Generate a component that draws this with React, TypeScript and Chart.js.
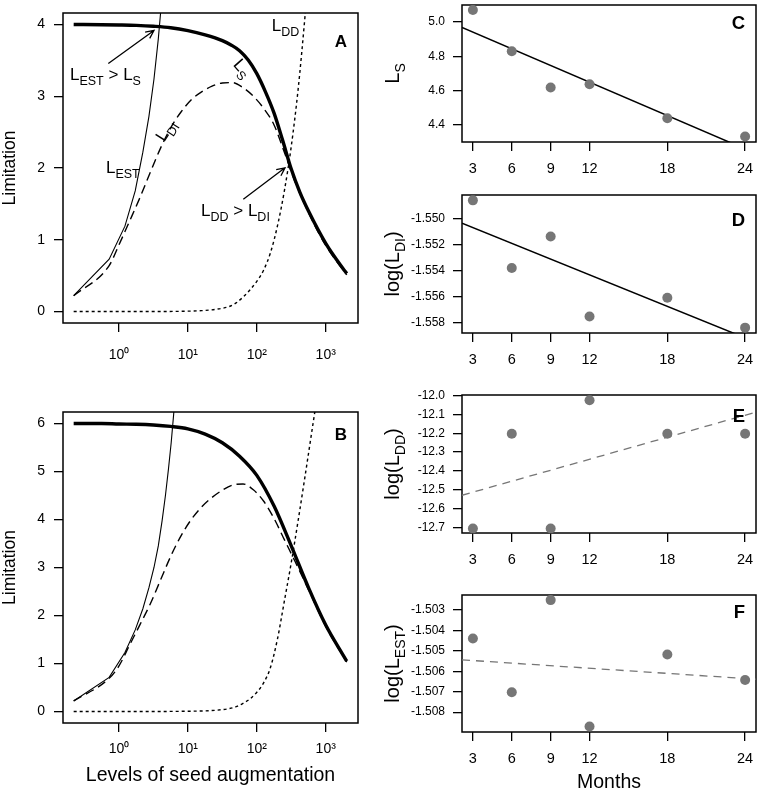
import React, { useEffect, useRef } from 'react';
import { Chart, registerables } from 'chart.js';

Chart.register(...registerables);

const FONT = '"Liberation Sans", Arial, Helvetica, sans-serif';
Chart.defaults.font.family = FONT;
Chart.defaults.color = '#000';

const POINT_GRAY = 'rgb(118,118,118)';

// ---------------- Panel A (seed augmentation, max 4) ----------------
const aLsX = [0.22, 0.56, 1, 1.78, 3.16, 5.62, 10, 17.8, 31.6, 42.2, 56.2, 75, 100, 133, 178, 237, 316, 422, 562, 1000, 1778, 2020];
const aLsY = [4.0, 3.997, 3.993, 3.987, 3.975, 3.955, 3.915, 3.855, 3.775, 3.715, 3.635, 3.505, 3.315, 3.065, 2.765, 2.385, 1.985, 1.66, 1.4, 0.95, 0.6, 0.53];
const aLdiX = [0.22, 0.72, 1.0, 1.41, 2.0, 2.82, 3.98, 5.62, 7.94, 11.2, 15.8, 22.4, 31.6, 44.7, 63.1, 89.1, 126, 178, 251, 355, 562, 1000, 2020];
const aLdiY = [0.22, 0.64, 0.93, 1.25, 1.58, 1.93, 2.27, 2.56, 2.78, 2.95, 3.06, 3.14, 3.185, 3.19, 3.12, 3.0, 2.83, 2.6, 2.22, 1.82, 1.38, 0.92, 0.51];
const aLddX = [0.22, 3.16, 10, 15.8, 25.1, 39.8, 50.1, 63.1, 79.4, 100, 126, 158, 200, 251, 316, 398, 501, 562];
const aLddY = [0, 0, 0.005, 0.012, 0.03, 0.07, 0.12, 0.2, 0.3, 0.42, 0.58, 0.82, 1.2, 1.68, 2.3, 3.1, 4.12, 4.7];
const aLestX = [0.22, 0.72, 1.22, 1.72, 2.22, 2.72, 3.22, 3.72, 4.22];
const aLestY = [0.22, 0.73, 1.19, 1.68, 2.22, 2.72, 3.24, 3.8, 4.4];
const aYTicks = [0, 1, 2, 3, 4];

// ---------------- Panel B (seed augmentation, max 6) ----------------
const bLsX = [0.22, 0.56, 1, 1.78, 3.16, 5.62, 10, 17.8, 31.6, 56.2, 100, 178, 316, 562, 1000, 1778, 2020];
const bLsY = [6.0, 6.0, 5.99, 5.985, 5.97, 5.94, 5.89, 5.78, 5.6, 5.32, 4.92, 4.28, 3.45, 2.58, 1.8, 1.18, 1.05];
const bLdiX = [0.22, 0.72, 1.0, 1.41, 2.0, 2.82, 3.98, 5.62, 7.94, 11.2, 15.8, 22.4, 31.6, 44.7, 63.1, 89.1, 126, 178, 251, 355, 562, 1000, 2020];
const bLdiY = [0.22, 0.69, 0.95, 1.37, 1.8, 2.23, 2.73, 3.23, 3.66, 4.0, 4.26, 4.46, 4.61, 4.72, 4.74, 4.62, 4.38, 4.02, 3.58, 3.14, 2.54, 1.77, 1.03];
const bLddX = [0.22, 3.16, 10, 15.8, 25.1, 39.8, 50.1, 63.1, 79.4, 100, 126, 158, 200, 251, 316, 398, 501, 631, 708];
const bLddY = [0, 0, 0.005, 0.01, 0.025, 0.06, 0.1, 0.17, 0.26, 0.4, 0.6, 0.92, 1.52, 2.3, 3.1, 3.98, 4.9, 5.85, 6.32];
const bLestX = [0.22, 0.72, 1.22, 1.72, 2.22, 2.72, 3.22, 3.72, 4.22, 4.72, 5.22, 5.72, 6.22, 6.72];
const bLestY = [0.22, 0.71, 1.23, 1.7, 2.14, 2.58, 3.0, 3.45, 3.97, 4.5, 5.05, 5.6, 6.2, 6.8];
const bYTicks = [0, 1, 2, 3, 4, 5, 6];

const logTickValues = [1, 10, 100, 1000];
const logTickLabels = ['10\u2070', '10\u00B9', '10\u00B2', '10\u00B3'];

// ---------------- Right panels (months) ----------------
const months = [3, 6, 9, 12, 18, 24];
const monthTicks = [3, 6, 9, 12, 18, 24];
const fitX = [2.16, 24.84];

const cLs = [5.071, 4.829, 4.617, 4.636, 4.437, 4.33];
const cFitY = [4.969, 4.23];
const cTicks = [4.4, 4.6, 4.8, 5.0];
const cTickLabels = ['4.4', '4.6', '4.8', '5.0'];

const dLdi = [-1.5486, -1.55378, -1.55137, -1.55749, -1.55606, -1.55835];
const dFitY = [-1.55035, -1.55947];
const dTicks = [-1.558, -1.556, -1.554, -1.552, -1.55];
const dTickLabels = ['-1.558', '-1.556', '-1.554', '-1.552', '-1.550'];

const eLdd = [-12.705, -12.203, -12.705, -12.0245, -12.203, -12.203];
const eFitY = [-12.529, -12.088];
const eTicks = [-12.7, -12.6, -12.5, -12.4, -12.3, -12.2, -12.1, -12.0];
const eTickLabels = ['-12.7', '-12.6', '-12.5', '-12.4', '-12.3', '-12.2', '-12.1', '-12.0'];

const fLest = [-1.5044, -1.50703, -1.50252, -1.5087, -1.50518, -1.50643];
const fFitY = [-1.50544, -1.50639];
const fTicks = [-1.508, -1.507, -1.506, -1.505, -1.504, -1.503];
const fTickLabels = ['-1.508', '-1.507', '-1.506', '-1.505', '-1.504', '-1.503'];

// ---------------- helpers ----------------
type Seg = { t: string; sub?: boolean };
type RichOpts = { size: number; sub: number; align?: 'left' | 'center' | 'right'; rot?: number; bold?: boolean; vmid?: boolean };

function drawRich(ctx: CanvasRenderingContext2D, segs: Seg[], x: number, y: number, o: RichOpts) {
  const weight = o.bold ? 'bold ' : '';
  const fontOf = (s: Seg) => `${weight}${s.sub ? o.sub : o.size}px ${FONT}`;
  ctx.save();
  ctx.translate(x, y);
  if (o.rot) ctx.rotate(o.rot);
  ctx.fillStyle = '#000';
  ctx.textAlign = 'left';
  ctx.textBaseline = 'alphabetic';
  const widths = segs.map((s) => {
    ctx.font = fontOf(s);
    return ctx.measureText(s.t).width;
  });
  const total = widths.reduce((a, b) => a + b, 0);
  let cx = o.align === 'center' ? -total / 2 : o.align === 'right' ? -total : 0;
  const base = o.vmid ? o.size * 0.36 : 0;
  segs.forEach((s, i) => {
    ctx.font = fontOf(s);
    ctx.fillText(s.t, cx, base + (s.sub ? o.size * 0.28 : 0));
    cx += widths[i];
  });
  ctx.restore();
}

function drawArrow(ctx: CanvasRenderingContext2D, x1: number, y1: number, x2: number, y2: number) {
  const ang = Math.atan2(y2 - y1, x2 - x1);
  const L = 9;
  const spread = 0.45;
  ctx.save();
  ctx.strokeStyle = '#000';
  ctx.lineWidth = 1.3;
  ctx.beginPath();
  ctx.moveTo(x1, y1);
  ctx.lineTo(x2, y2);
  ctx.moveTo(x2 - L * Math.cos(ang - spread), y2 - L * Math.sin(ang - spread));
  ctx.lineTo(x2, y2);
  ctx.lineTo(x2 - L * Math.cos(ang + spread), y2 - L * Math.sin(ang + spread));
  ctx.stroke();
  ctx.restore();
}

const boxPlugin = {
  id: 'panelBox',
  beforeDatasetsDraw(chart: any) {
    const { ctx, chartArea: a } = chart;
    ctx.save();
    ctx.strokeStyle = '#000';
    ctx.lineWidth = 1.5;
    ctx.strokeRect(a.left, a.top, a.right - a.left, a.bottom - a.top);
    ctx.restore();
  },
};

function letterPlugin(letter: string, dx: number, dy: number, size: number) {
  return {
    id: 'panelLetter',
    afterDatasetsDraw(chart: any) {
      const { ctx, chartArea: a } = chart;
      drawRich(ctx, [{ t: letter }], a.right - dx, a.top + dy, { size, sub: size, align: 'right', bold: true });
    },
  };
}

type Annot =
  | { kind: 'text'; segs: Seg[]; x: number; y: number; align?: 'left' | 'center' | 'right'; rot?: number; vmid?: boolean }
  | { kind: 'arrow'; x1: number; y1: number; x2: number; y2: number };

function annotPlugin(items: Annot[]) {
  return {
    id: 'annots',
    afterDatasetsDraw(chart: any) {
      const { ctx } = chart;
      const X = (v: number) => chart.scales.x.getPixelForValue(v);
      const Y = (v: number) => chart.scales.y.getPixelForValue(v);
      items.forEach((it) => {
        if (it.kind === 'arrow') drawArrow(ctx, X(it.x1), Y(it.y1), X(it.x2), Y(it.y2));
        else drawRich(ctx, it.segs, X(it.x), Y(it.y), { size: 17, sub: 12.5, align: it.align, rot: it.rot, vmid: it.vmid });
      });
    },
  };
}

function yTitlePlugin(segs: Seg[], baseX: number) {
  return {
    id: 'yTitle',
    afterDraw(chart: any) {
      const { ctx, chartArea: a } = chart;
      drawRich(ctx, segs, baseX, (a.top + a.bottom) / 2, { size: 20, sub: 14, align: 'center', rot: -Math.PI / 2 });
    },
  };
}

const pts = (xs: number[], ys: number[]) => xs.map((x, i) => ({ x, y: ys[i] }));

const tickGrid = { display: true, drawOnChartArea: false, drawTicks: true, tickLength: 9, color: '#000', lineWidth: 1.3 };

// ---------------- left panel config ----------------
function leftConfig(p: any) {
  return {
    type: 'line',
    data: {
      datasets: [
        { data: pts(p.lsX, p.lsY), borderColor: '#000', borderWidth: 3.4, pointRadius: 0, cubicInterpolationMode: 'monotone', clip: 0 },
        { data: pts(p.lestX, p.lestY), borderColor: '#000', borderWidth: 1.1, pointRadius: 0, tension: 0, clip: 0 },
        { data: pts(p.ldiX, p.ldiY), borderColor: '#000', borderWidth: 1.4, borderDash: [9, 5], pointRadius: 0, cubicInterpolationMode: 'monotone', clip: 0 },
        { data: pts(p.lddX, p.lddY), borderColor: '#000', borderWidth: 1.4, borderDash: [3, 3], pointRadius: 0, cubicInterpolationMode: 'monotone', clip: 0 },
      ],
    },
    options: {
      animation: false,
      responsive: false,
      events: [],
      layout: { padding: { top: p.padTop, right: p.padRight, left: 0, bottom: 0 } },
      plugins: { legend: { display: false }, tooltip: { enabled: false } },
      scales: {
        x: {
          type: 'logarithmic',
          bounds: 'data',
          min: 0.154,
          max: 2940,
          afterBuildTicks: (s: any) => {
            s.ticks = logTickValues.map((v) => ({ value: v }));
          },
          afterFit: (s: any) => {
            s.height = p.xAxisH;
            s.paddingLeft = 0;
            s.paddingRight = 0;
          },
          ticks: {
            autoSkip: false,
            maxRotation: 0,
            minRotation: 0,
            padding: p.xTickPad,
            color: '#000',
            font: { family: FONT, size: 14 },
            callback: (_v: any, i: number) => logTickLabels[i],
          },
          grid: tickGrid,
          border: { display: false },
          title: p.xTitle
            ? { display: true, text: p.xTitle, color: '#000', font: { family: FONT, size: 19.5 }, padding: { top: 0, bottom: 7 } }
            : { display: false },
        },
        y: {
          type: 'linear',
          bounds: 'data',
          min: p.yMin,
          max: p.yMax,
          afterBuildTicks: (s: any) => {
            s.ticks = p.yTicks.map((v: number) => ({ value: v }));
          },
          afterFit: (s: any) => {
            s.width = 63;
            s.paddingTop = 0;
            s.paddingBottom = 0;
          },
          ticks: {
            autoSkip: false,
            padding: 9,
            color: '#000',
            font: { family: FONT, size: 14 },
            callback: (v: any) => String(v),
          },
          grid: tickGrid,
          border: { display: false },
          title: { display: true, text: 'Limitation', color: '#000', font: { family: FONT, size: 17.5 }, padding: { top: 0, bottom: 0 } },
        },
      },
    },
    plugins: [boxPlugin, annotPlugin(p.annots), letterPlugin(p.letter, 11, p.letterDy, 17)],
  };
}

// ---------------- right panel config ----------------
function rightConfig(p: any) {
  return {
    type: 'line',
    data: {
      datasets: [
        { data: pts(months, p.vals), showLine: false, pointRadius: 5, pointBackgroundColor: POINT_GRAY, pointBorderWidth: 0, borderColor: POINT_GRAY, clip: false },
        p.dashed
          ? { data: pts(fitX, p.fitY), borderColor: POINT_GRAY, borderWidth: 1.3, borderDash: [8, 6], pointRadius: 0, tension: 0, clip: 0 }
          : { data: pts(fitX, p.fitY), borderColor: '#000', borderWidth: 1.5, pointRadius: 0, tension: 0, clip: 0 },
      ],
    },
    options: {
      animation: false,
      responsive: false,
      events: [],
      layout: { padding: { top: p.padTop, right: 3, left: 0, bottom: 0 } },
      plugins: { legend: { display: false }, tooltip: { enabled: false } },
      scales: {
        x: {
          type: 'linear',
          bounds: 'data',
          min: 2.16,
          max: 24.84,
          afterBuildTicks: (s: any) => {
            s.ticks = monthTicks.map((v) => ({ value: v }));
          },
          afterFit: (s: any) => {
            s.height = p.xAxisH;
            s.paddingLeft = 0;
            s.paddingRight = 0;
          },
          ticks: {
            autoSkip: false,
            maxRotation: 0,
            minRotation: 0,
            padding: 9,
            color: '#000',
            font: { family: FONT, size: 14.5 },
            callback: (v: any) => String(v),
          },
          grid: tickGrid,
          border: { display: false },
          title: p.xTitle
            ? { display: true, text: p.xTitle, color: '#000', font: { family: FONT, size: 19.5 }, padding: { top: 0, bottom: 0 } }
            : { display: false },
        },
        y: {
          type: 'linear',
          bounds: 'data',
          min: p.yMin,
          max: p.yMax,
          afterBuildTicks: (s: any) => {
            s.ticks = p.ticks.map((v: number) => ({ value: v }));
          },
          afterFit: (s: any) => {
            s.width = 82;
            s.paddingTop = 0;
            s.paddingBottom = 0;
          },
          ticks: {
            autoSkip: false,
            padding: 8,
            color: '#000',
            font: { family: FONT, size: 12 },
            callback: (_v: any, i: number) => p.tickLabels[i],
          },
          grid: tickGrid,
          border: { display: false },
        },
      },
    },
    plugins: [boxPlugin, yTitlePlugin(p.title, 19), letterPlugin(p.letter, 11, p.letterDy, 18.5)],
  };
}

const annotsA: Annot[] = [
  { kind: 'text', segs: [{ t: 'L' }, { t: 'EST', sub: true }, { t: ' > L' }, { t: 'S', sub: true }], x: 0.1945, y: 3.225, align: 'left' },
  { kind: 'arrow', x1: 0.7, y1: 3.456, x2: 3.22, y2: 3.917 },
  { kind: 'text', segs: [{ t: 'L' }, { t: 'S', sub: true }], x: 63, y: 3.4, align: 'center', rot: 0.85, vmid: true },
  { kind: 'text', segs: [{ t: 'L' }, { t: 'DI', sub: true }], x: 4.65, y: 2.53, align: 'center', rot: -1.0, vmid: true },
  { kind: 'text', segs: [{ t: 'L' }, { t: 'EST', sub: true }], x: 0.647, y: 1.93, align: 'left' },
  { kind: 'text', segs: [{ t: 'L' }, { t: 'DD', sub: true }, { t: ' > L' }, { t: 'DI', sub: true }], x: 15.5, y: 1.333, align: 'left' },
  { kind: 'arrow', x1: 63.7, y1: 1.564, x2: 256.6, y2: 2.003 },
  { kind: 'text', segs: [{ t: 'L' }, { t: 'DD', sub: true }], x: 164.5, y: 3.907, align: 'left' },
];

function ChartBox(props: { left: number; top: number; width: number; height: number; build: () => any }) {
  const ref = useRef<HTMLCanvasElement>(null);
  useEffect(() => {
    const chart = new Chart(ref.current as HTMLCanvasElement, props.build());
    return () => chart.destroy();
  }, []);
  return (
    <canvas
      ref={ref}
      width={props.width}
      height={props.height}
      style={{ position: 'absolute', left: props.left, top: props.top, width: props.width, height: props.height }}
    />
  );
}

export default function App() {
  return (
    <div style={{ position: 'absolute', left: 0, top: 0, width: 761, height: 794, background: '#fff', overflow: 'hidden' }}>
      <ChartBox
        left={0}
        top={0}
        width={380}
        height={390}
        build={() =>
          leftConfig({
            lsX: aLsX, lsY: aLsY, ldiX: aLdiX, ldiY: aLdiY, lddX: aLddX, lddY: aLddY, lestX: aLestX, lestY: aLestY,
            yMin: -0.16, yMax: 4.16, yTicks: aYTicks, padTop: 13, padRight: 22, xAxisH: 67, xTickPad: 15,
            xTitle: null, letter: 'A', letterDy: 34, annots: annotsA,
          })
        }
      />
      <ChartBox
        left={0}
        top={390}
        width={380}
        height={404}
        build={() =>
          leftConfig({
            lsX: bLsX, lsY: bLsY, ldiX: bLdiX, ldiY: bLdiY, lddX: bLddX, lddY: bLddY, lestX: bLestX, lestY: bLestY,
            yMin: -0.24, yMax: 6.24, yTicks: bYTicks, padTop: 22, padRight: 22, xAxisH: 71, xTickPad: 9,
            xTitle: 'Levels of seed augmentation', letter: 'B', letterDy: 28, annots: [],
          })
        }
      />
      <ChartBox
        left={380}
        top={0}
        width={381}
        height={190}
        build={() =>
          rightConfig({
            vals: cLs, fitY: cFitY, dashed: false, yMin: 4.298, yMax: 5.1, ticks: cTicks, tickLabels: cTickLabels,
            padTop: 4, xAxisH: 48, xTitle: null, title: [{ t: 'L' }, { t: 'S', sub: true }], letter: 'C', letterDy: 24,
          })
        }
      />
      <ChartBox
        left={380}
        top={190}
        width={381}
        height={200}
        build={() =>
          rightConfig({
            vals: dLdi, fitY: dFitY, dashed: false, yMin: -1.55876, yMax: -1.54819, ticks: dTicks, tickLabels: dTickLabels,
            padTop: 4, xAxisH: 57, xTitle: null, title: [{ t: 'log(L' }, { t: 'DI', sub: true }, { t: ')' }], letter: 'D', letterDy: 31,
          })
        }
      />
      <ChartBox
        left={380}
        top={390}
        width={381}
        height={200}
        build={() =>
          rightConfig({
            vals: eLdd, fitY: eFitY, dashed: true, yMin: -12.729, yMax: -11.997, ticks: eTicks, tickLabels: eTickLabels,
            padTop: 5, xAxisH: 57, xTitle: null, title: [{ t: 'log(L' }, { t: 'DD', sub: true }, { t: ')' }], letter: 'E', letterDy: 27,
          })
        }
      />
      <ChartBox
        left={380}
        top={590}
        width={381}
        height={204}
        build={() =>
          rightConfig({
            vals: fLest, fitY: fFitY, dashed: true, yMin: -1.50897, yMax: -1.50227, ticks: fTicks, tickLabels: fTickLabels,
            padTop: 4, xAxisH: 62, xTitle: 'Months', title: [{ t: 'log(L' }, { t: 'EST', sub: true }, { t: ')' }], letter: 'F', letterDy: 23,
          })
        }
      />
    </div>
  );
}
